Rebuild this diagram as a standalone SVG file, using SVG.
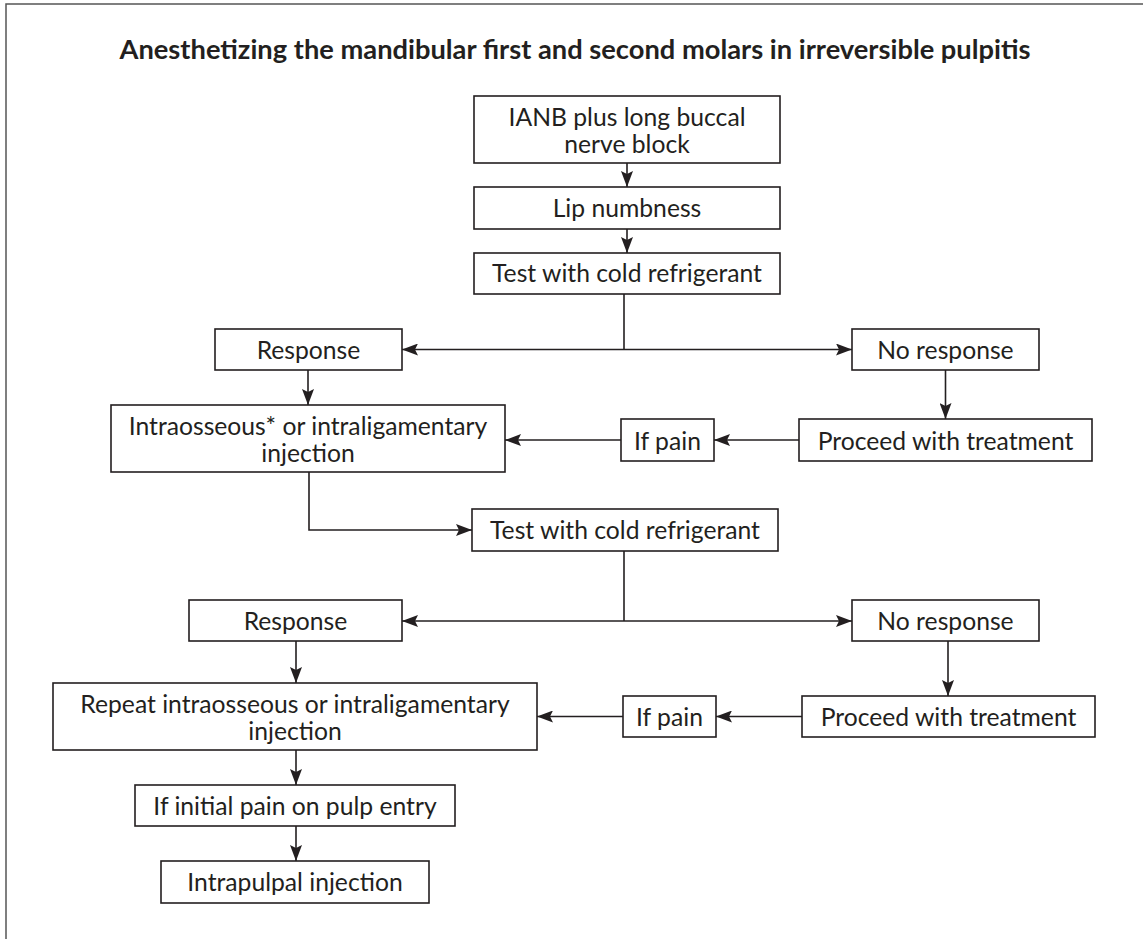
<svg xmlns="http://www.w3.org/2000/svg" width="1143" height="939" viewBox="0 0 1143 939">
<style>
.box{fill:#fff;stroke:#231f20;stroke-width:1.6}
.t{font-family:Lato,"Open Sans","Liberation Sans",sans-serif;font-size:24.7px;fill:#231f20;text-anchor:middle}
.title{font-family:Lato,"Open Sans","Liberation Sans",sans-serif;font-size:26px;font-weight:bold;fill:#231f20;text-anchor:middle}
.c{fill:none;stroke:#231f20;stroke-width:1.6}
.a{marker-end:url(#ah)}
.b{marker-end:url(#ah);marker-start:url(#ah)}
</style>
<defs>
<marker id="ah" viewBox="0 0 16 12" refX="16" refY="6" markerWidth="16" markerHeight="12" markerUnits="userSpaceOnUse" orient="auto-start-reverse">
<path d="M0,0 L16,6 L0,12 L3,6 z" fill="#231f20"/>
</marker>
</defs>
<rect width="1143" height="939" fill="#fff"/>
<path d="M6,939 V4 H1143" fill="none" stroke="#555" stroke-width="1.5"/>
<text class="title" x="575" y="59" textLength="911" lengthAdjust="spacingAndGlyphs">Anesthetizing the mandibular first and second molars in irreversible pulpitis</text>
<g id="connectors">
<path class="c a" d="M627,163 V187"/>
<path class="c a" d="M627,229 V253"/>
<path class="c" d="M624,294 V349.5"/>
<path class="c b" d="M402,349.5 H852"/>
<path class="c a" d="M308,370 V405"/>
<path class="c a" d="M945.5,370 V419"/>
<path class="c a" d="M799,440 H714"/>
<path class="c a" d="M621,440 H505"/>
<path class="c a" d="M309,472 V530 H472"/>
<path class="c" d="M624,551 V621"/>
<path class="c b" d="M402,621 H852"/>
<path class="c a" d="M296,641 V683"/>
<path class="c a" d="M948,641 V696"/>
<path class="c a" d="M802,716.5 H716"/>
<path class="c a" d="M623,716.5 H537"/>
<path class="c a" d="M296,750 V785"/>
<path class="c a" d="M296,826 V861"/>
</g>
<g id="n1"><rect class="box" x="474" y="96" width="306" height="67"/><text class="t" x="627" y="126">IANB plus long buccal</text><text class="t" x="627" y="153">nerve block</text></g>
<g id="n2"><rect class="box" x="474" y="187" width="306" height="42"/><text class="t" x="627" y="217">Lip numbness</text></g>
<g id="n3"><rect class="box" x="474" y="253" width="306" height="41"/><text class="t" x="627" y="282">Test with cold refrigerant</text></g>
<g id="n4"><rect class="box" x="215" y="329" width="187" height="41"/><text class="t" x="308.5" y="359">Response</text></g>
<g id="n5"><rect class="box" x="852" y="329" width="187" height="41"/><text class="t" x="945.5" y="359">No response</text></g>
<g id="n6"><rect class="box" x="111" y="405" width="394" height="67"/><text class="t" x="308" y="435">Intraosseous* or intraligamentary</text><text class="t" x="308" y="462">injection</text></g>
<g id="n7"><rect class="box" x="621" y="419" width="93" height="42"/><text class="t" x="667.5" y="449.5">If pain</text></g>
<g id="n8"><rect class="box" x="799" y="419" width="293" height="42"/><text class="t" x="945.5" y="449.5">Proceed with treatment</text></g>
<g id="n9"><rect class="box" x="472" y="509" width="306" height="42"/><text class="t" x="625" y="539">Test with cold refrigerant</text></g>
<g id="n10"><rect class="box" x="189" y="600" width="213" height="41"/><text class="t" x="295.5" y="630">Response</text></g>
<g id="n11"><rect class="box" x="852" y="600" width="187" height="41"/><text class="t" x="945.5" y="630">No response</text></g>
<g id="n12"><rect class="box" x="53" y="683" width="484" height="67"/><text class="t" x="295" y="713">Repeat intraosseous or intraligamentary</text><text class="t" x="295" y="740">injection</text></g>
<g id="n13"><rect class="box" x="623" y="696" width="93" height="41"/><text class="t" x="669.5" y="726">If pain</text></g>
<g id="n14"><rect class="box" x="802" y="696" width="293" height="41"/><text class="t" x="948.5" y="726">Proceed with treatment</text></g>
<g id="n15"><rect class="box" x="135" y="785" width="320" height="41"/><text class="t" x="295" y="815">If initial pain on pulp entry</text></g>
<g id="n16"><rect class="box" x="161" y="861" width="268" height="42"/><text class="t" x="295" y="891">Intrapulpal injection</text></g>
</svg>
